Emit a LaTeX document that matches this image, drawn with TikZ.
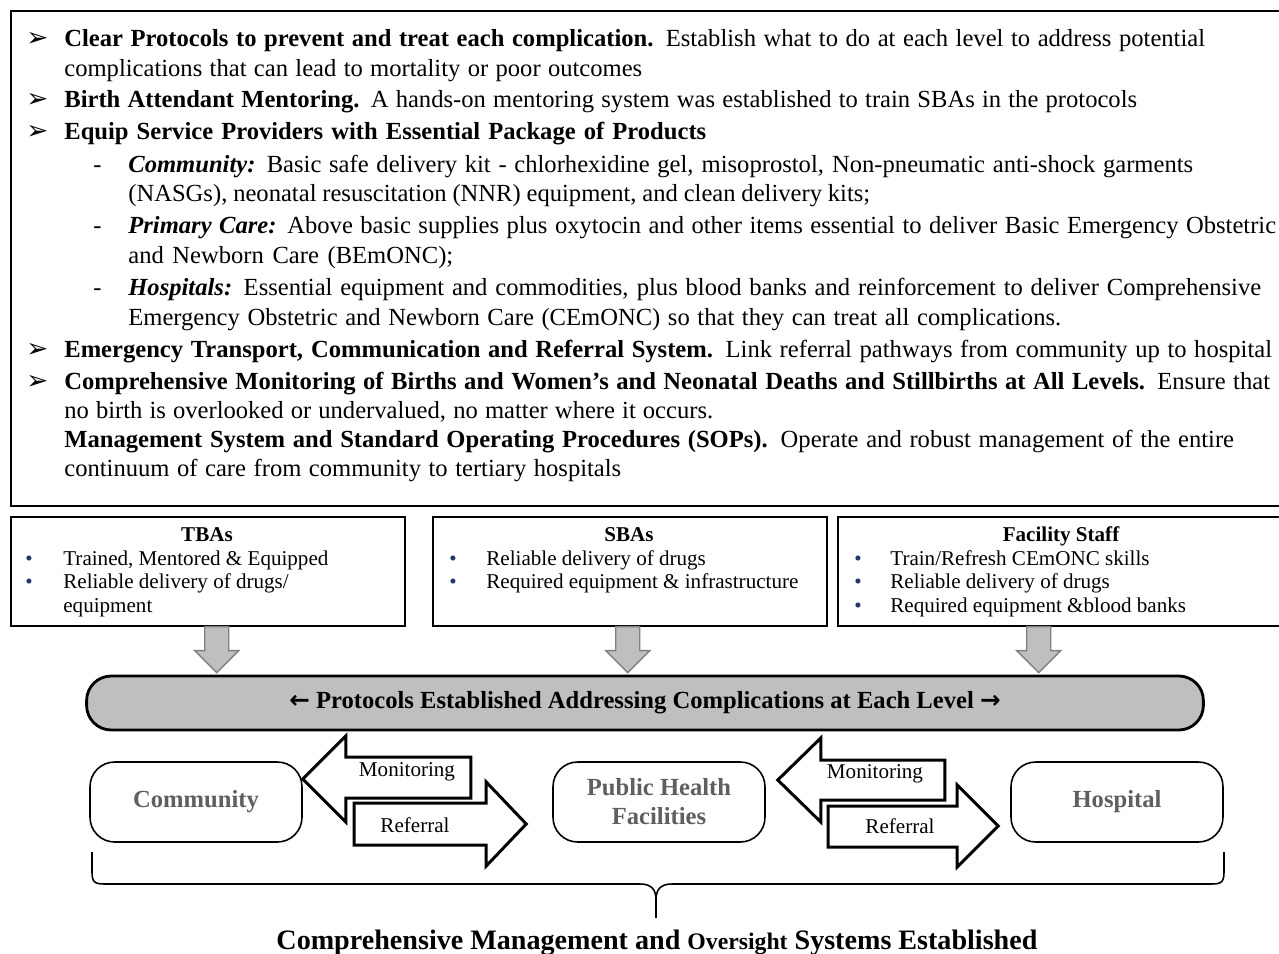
\documentclass[tikz,border=0pt]{standalone}
\usepackage{fontspec}
\setmainfont{Liberation Serif}
\newfontfamily\dingfont{DejaVu Sans}
\usepackage{tikz}
\usetikzlibrary{arrows.meta, positioning, calc, shapes}
\usepackage{xcolor}
\definecolor{bannergray}{RGB}{191,191,191}
\definecolor{arrowgray}{RGB}{128,128,128}
\definecolor{levelgray}{RGB}{95,95,95}
\definecolor{dotblue}{RGB}{31,56,100}

\newcommand{\bodyfont}{\fontsize{14}{17}\selectfont}
\newcommand{\boxfont}{\fontsize{12}{14}\selectfont}

\begin{document}
\begin{tikzpicture}[x=0.02cm, y=-0.02cm,
  line/.style={anchor=base west, inner sep=0pt, font=\bodyfont},
  pointer/.style={anchor=base west, inner sep=0pt, font=\dingfont\fontsize{15}{17}\selectfont},
  item/.style={anchor=base west, inner sep=0pt, font=\boxfont},
  dot/.style={anchor=base west, inner sep=0pt, font=\boxfont, text=dotblue},
  head/.style={anchor=base, inner sep=0pt, font=\boxfont\bfseries},
  panel/.style={draw, line width=0.9pt, anchor=north west, inner sep=0pt},
  down/.style={fill=bannergray, draw=arrowgray, line width=0.8pt},
  banner/.style={draw, fill=bannergray, line width=1.6pt, rounded corners=14pt,
    minimum width=22.34cm, minimum height=1.08cm, font=\fontsize{14}{17}\selectfont\bfseries},
  level/.style={draw, line width=0.9pt, rounded corners=14pt, minimum width=4.24cm,
    minimum height=1.6cm, align=center, text=levelgray, font=\fontsize{14}{16.5}\selectfont\bfseries},
  flow/.style={draw, line width=1.7pt, fill=white, line join=miter},
  flowtext/.style={inner sep=0pt, font=\boxfont},
  brace/.style={draw, line width=0.9pt}
]
  \useasboundingbox (0,0) rectangle (1279,954);
  \clip (0,0) rectangle (1279,954);
  % Key components
  \node[panel, line width=1.1pt, minimum width=25.6cm, minimum height=9.9cm] (goals) at (10,10) {};
  \node[pointer] (p1) at (26,46) {➢};
  \node[line] (l1) at (64,46) {\makebox[22.82cm][s]{\textbf{Clear Protocols to prevent and treat each complication.} Establish what to do at each level to address potential}};
  \node[line] (l2) at (64,76) {\makebox[11.56cm][s]{complications that can lead to mortality or poor outcomes}};
  \node[pointer] (p3) at (26,107) {➢};
  \node[line] (l3) at (64,107) {\makebox[21.46cm][s]{\textbf{Birth Attendant Mentoring.} A hands-on mentoring system was established to train SBAs in the protocols}};
  \node[pointer] (p4) at (26,139) {➢};
  \node[line] (l4) at (64,139) {\makebox[12.84cm][s]{\textbf{Equip Service Providers with Essential Package of Products}}};
  \node[line] (d5) at (93,172) {-};
  \node[line] (l5) at (128,172) {\makebox[21.3cm][s]{\textbf{\textit{Community:}} Basic safe delivery kit - chlorhexidine gel, misoprostol, Non-pneumatic anti-shock garments}};
  \node[line] (l6) at (128,201) {\makebox[14.84cm][s]{(NASGs), neonatal resuscitation (NNR) equipment, and clean delivery kits;}};
  \node[line] (d7) at (93,233) {-};
  \node[line] (l7) at (128,233) {\makebox[22.96cm][s]{\textbf{\textit{Primary Care:}} Above basic supplies plus oxytocin and other items essential to deliver Basic Emergency Obstetric}};
  \node[line] (l8) at (128,263) {\makebox[6.5cm][s]{and Newborn Care (BEmONC);}};
  \node[line] (d9) at (93,295) {-};
  \node[line] (l9) at (128,295) {\makebox[22.66cm][s]{\textbf{\textit{Hospitals:}} Essential equipment and commodities, plus blood banks and reinforcement to deliver Comprehensive}};
  \node[line] (l10) at (128,325) {\makebox[18.66cm][s]{Emergency Obstetric and Newborn Care (CEmONC) so that they can treat all complications.}};
  \node[pointer] (p11) at (26,357) {➢};
  \node[line] (l11) at (64,357) {\makebox[24.16cm][s]{\textbf{Emergency Transport, Communication and Referral System.} Link referral pathways from community up to hospital}};
  \node[pointer] (p12) at (26,389) {➢};
  \node[line] (l12) at (64,389) {\makebox[24.12cm][s]{\textbf{Comprehensive Monitoring of Births and Women’s and Neonatal Deaths and Stillbirths at All Levels.} Ensure that}};
  \node[line] (l13) at (64,418) {\makebox[12.98cm][s]{no birth is overlooked or undervalued, no matter where it occurs.}};
  \node[line] (l14) at (64,447) {\makebox[23.4cm][s]{\textbf{Management System and Standard Operating Procedures (SOPs).} Operate and robust management of the entire}};
  \node[line] (l15) at (64,476) {\makebox[11.14cm][s]{continuum of care from community to tertiary hospitals}};
  % Providers
  \node[panel, minimum width=7.88cm, minimum height=2.18cm] (tba) at (10,516) {};
  \node[head] (tbah) at (207,541) {TBAs};
  \node[dot] (tbab1) at (25,565) {•};
  \node[item] (tbai1) at (63,565) {Trained, Mentored \& Equipped};
  \node[dot] (tbab2) at (25,588) {•};
  \node[item] (tbai2) at (63,588) {Reliable delivery of drugs/};
  \node[item] (tbai3) at (63,612) {equipment};
  \node[panel, minimum width=7.88cm, minimum height=2.18cm] (sba) at (432,516) {};
  \node[head] (sbah) at (629,541) {SBAs};
  \node[dot] (sbab1) at (449,565) {•};
  \node[item] (sbai1) at (486,565) {Reliable delivery of drugs};
  \node[dot] (sbab2) at (449,588) {•};
  \node[item] (sbai2) at (486,588) {Required equipment \& infrastructure};
  \node[panel, minimum width=9cm, minimum height=2.18cm] (staff) at (837,516) {};
  \node[head] (staffh) at (1061,541) {Facility Staff};
  \node[dot] (staffb1) at (854,565) {•};
  \node[item] (staffi1) at (890,565) {Train/Refresh CEmONC skills};
  \node[dot] (staffb2) at (854,588) {•};
  \node[item] (staffi2) at (890,588) {Reliable delivery of drugs};
  \node[dot] (staffb3) at (854,612) {•};
  \node[item] (staffi3) at (890,612) {Required equipment \&blood banks};
  % Down arrows
  \coordinate (d1) at ($(tba.south)+(9,0)$);
  \coordinate (d2) at ($(sba.south)+(-2,0)$);
  \coordinate (d3) at ($(staff.south)+(-24,0)$);
  \draw[down] (d1) ++(-12,0) -- ++(24,0) -- ++(0,24) -- ++(10,0) -- ++(-22,22) -- ++(-22,-22) -- ++(10,0) -- cycle;
  \draw[down] (d2) ++(-12,0) -- ++(24,0) -- ++(0,24) -- ++(10,0) -- ++(-22,22) -- ++(-22,-22) -- ++(10,0) -- cycle;
  \draw[down] (d3) ++(-12,0) -- ++(24,0) -- ++(0,24) -- ++(10,0) -- ++(-22,22) -- ++(-22,-22) -- ++(10,0) -- cycle;
  % Protocols
  \node[banner] (prot) at (645,703) {{\dingfont\bfseries ←} Protocols Established Addressing Complications at Each Level {\dingfont\bfseries →}};
  % Levels of care
  \node[level] (comm) at (196,802) {Community};
  \node[level] (phf) at (659,802) {Public Health\\Facilities};
  \node[level] (hosp) at (1117,802) {Hospital};
  % Monitoring and referral
  \draw[flow] ($(comm.east)+(0,-23)$) -- ++(43,-43) -- ++(0,21) -- ++(125,0) -- ++(0,41) -- ++(-125,0) -- ++(0,24) -- cycle;
  \draw[flow] ($(phf.west)+(-26,22)$) -- ++(-40,-42) -- ++(0,21) -- ++(-132,0) -- ++(0,42) -- ++(132,0) -- ++(0,21) -- cycle;
  \draw[flow] ($(phf.east)+(12,-22)$) -- ++(43,-42) -- ++(0,22) -- ++(124,0) -- ++(0,40) -- ++(-124,0) -- ++(0,22) -- cycle;
  \draw[flow] ($(hosp.west)+(-12,24)$) -- ++(-41,-41) -- ++(0,21) -- ++(-129,0) -- ++(0,41) -- ++(129,0) -- ++(0,20) -- cycle;
  \node[flowtext] (mon1) at (407,772) {Monitoring};
  \node[flowtext] (ref1) at (415,825) {Referral};
  \node[flowtext] (mon2) at (875,774) {Monitoring};
  \node[flowtext] (ref2) at (900,826) {Referral};
  % Brace
  \draw[brace] (92,852) -- (92,872) .. controls (92,884) and (96,884) .. (108,884) -- (640,884)
    .. controls (652,884) and (656,890) .. (656,900) -- (656,918);
  \draw[brace] (1224,852) -- (1224,872) .. controls (1224,884) and (1220,884) .. (1208,884) -- (672,884)
    .. controls (660,884) and (656,890) .. (656,900);
  \node[anchor=base, inner sep=0pt, font=\fontsize{16}{19}\selectfont\bfseries] (oversight) at (657,949)
    {Comprehensive Management and {\fontsize{13.5}{16}\selectfont Oversight} Systems Established};
\end{tikzpicture}
\end{document}
